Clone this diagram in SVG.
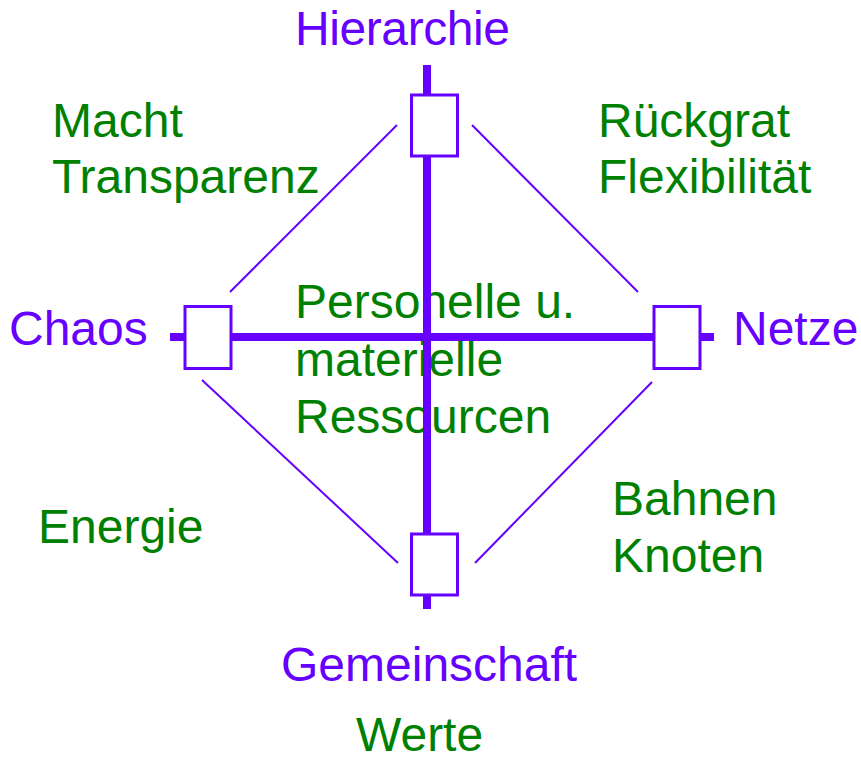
<svg xmlns="http://www.w3.org/2000/svg" width="861" height="760" viewBox="0 0 861 760">
<style>
text{font-family:"Liberation Sans",Arial,sans-serif;font-size:48px}
.p{fill:#6600FF}
.g{fill:#008000}
.axis{stroke:#6600FF;stroke-width:8;fill:none}
.diag{stroke:#6600FF;stroke-width:2;fill:none}
.box{fill:#FFFFFF;stroke:#6600FF;stroke-width:3}
</style>
<rect width="861" height="760" fill="#FFFFFF"/>
<g id="labels-center">
<text class="g" x="295" y="318">Personelle u.</text>
<text class="g" x="295" y="376">materielle</text>
<text class="g" x="295" y="433">Ressourcen</text>
</g>
<g id="connectors">
<line class="axis" x1="427" y1="65" x2="427" y2="609"/>
<line class="axis" x1="170" y1="337" x2="714" y2="337"/>
<line class="diag" x1="230" y1="292" x2="397" y2="125"/>
<line class="diag" x1="472" y1="125" x2="638" y2="292"/>
<line class="diag" x1="202" y1="380" x2="398" y2="563"/>
<line class="diag" x1="475" y1="563" x2="652" y2="382"/>
</g>
<g id="node-top"><rect class="box" x="411.5" y="95" width="46" height="61"/></g>
<g id="node-left"><rect class="box" x="185" y="306.5" width="46" height="62"/></g>
<g id="node-right"><rect class="box" x="654" y="306.5" width="46" height="62"/></g>
<g id="node-bottom"><rect class="box" x="411.5" y="534" width="46" height="61"/></g>
<g id="labels">
<text class="p" x="295" y="45" textLength="215">Hierarchie</text>
<text class="p" x="9" y="345">Chaos</text>
<text class="p" x="733" y="345">Netze</text>
<text class="p" x="281" y="681">Gemeinschaft</text>
<text class="g" x="52" y="137">Macht</text>
<text class="g" x="52" y="193">Transparenz</text>
<text class="g" x="598" y="137">Rückgrat</text>
<text class="g" x="598" y="193">Flexibilität</text>
<text class="g" x="38" y="543">Energie</text>
<text class="g" x="612" y="515">Bahnen</text>
<text class="g" x="612" y="572">Knoten</text>
<text class="g" x="356" y="751">Werte</text>
</g>
</svg>
